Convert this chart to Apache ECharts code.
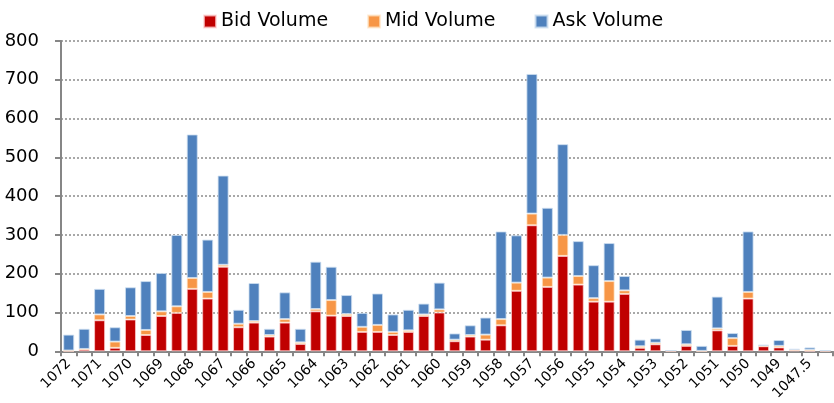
<!DOCTYPE html>
<html lang="en">
<head>
    <meta charset="UTF-8">
    <title>Volume by price</title>
    <script src="https://cdn.jsdelivr.net/npm/echarts@6/dist/echarts.min.js"></script>
    <style>
        body { margin: 0; background: #fff; }
        #main { width: 834px; height: 403px; }
    </style>
</head>
<body>
    <div id="main"></div>
    <script>
        // price levels, high to low
        var prices = ['1072','1071.5','1071','1070.5','1070','1069.5','1069','1068.5','1068','1067.5',
                      '1067','1066.5','1066','1065.5','1065','1064.5','1064','1063.5','1063','1062.5',
                      '1062','1061.5','1061','1060.5','1060','1059.5','1059','1058.5','1058','1057.5',
                      '1057','1056.5','1056','1055.5','1055','1054.5','1054','1053.5','1053','1052.5',
                      '1052','1051.5','1051','1050.5','1050','1049.5','1049','1048.5','1047.5','1047'];

        var bidVolume = [1, 5, 80, 9, 82, 42, 91, 99, 161, 136,
                         218, 62, 74, 38, 74, 19, 103, 92, 91, 50,
                         50, 42, 50, 91, 100, 26, 38, 30, 67, 156,
                         325, 166, 246, 172, 128, 128, 148, 9, 18, 1,
                         14, 1, 54, 14, 136, 13, 10, 3, 1, 1];

        var midVolume = [1, 1, 15, 16, 9, 13, 12, 17, 28, 17,
                         5, 9, 4, 4, 9, 4, 6, 40, 5, 13,
                         18, 8, 4, 4, 8, 4, 4, 13, 16, 21,
                         30, 24, 54, 22, 9, 53, 9, 4, 4, 1,
                         4, 0, 5, 20, 17, 1, 4, 1, 3, 1];

        var askVolume = [41, 52, 66, 37, 74, 126, 99, 184, 370, 135,
                         230, 36, 98, 16, 69, 35, 122, 86, 49, 36,
                         81, 45, 53, 28, 69, 16, 25, 44, 226, 122,
                         360, 180, 234, 90, 85, 98, 37, 17, 11, 0,
                         37, 13, 82, 13, 156, 3, 15, 2, 6, 0];

        var font = 'DejaVu Sans, Verdana, sans-serif';

        function barSeries(name, data, color, border) {
            return {
                name: name,
                type: 'bar',
                stack: 'vol',
                barWidth: 11,
                data: data,
                itemStyle: {
                    color: color,
                    borderColor: border,
                    borderWidth: 1
                }
            };
        }

        var mychart = echarts.init(document.getElementById('main'));
        var option = {
            animation: false,
            textStyle: { fontFamily: font },
            legend: {
                top: 7,
                left: 198,
                icon: 'rect',
                itemWidth: 12,
                itemHeight: 12,
                itemGap: 39,
                textStyle: { fontSize: 19, color: '#000', fontFamily: font },
                data: ['Bid Volume', 'Mid Volume', 'Ask Volume']
            },
            grid: {
                left: 61,
                right: 1,
                top: 41,
                bottom: 50,
                containLabel: false
            },
            xAxis: {
                type: 'category',
                data: prices,
                boundaryGap: true,
                axisLine: { lineStyle: { color: '#868686', width: 2 } },
                axisTick: { show: true, interval: 0, length: 5, lineStyle: { color: '#868686', width: 2 } },
                axisLabel: {
                    interval: 1,
                    rotate: 45,
                    margin: 10,
                    fontSize: 14,
                    color: '#000',
                    fontFamily: font
                }
            },
            yAxis: {
                type: 'value',
                min: 0,
                max: 800,
                interval: 100,
                axisLine: { show: true, lineStyle: { color: '#868686', width: 2 } },
                axisTick: { show: true, length: 6, lineStyle: { color: '#868686', width: 2 } },
                axisLabel: { fontSize: 18, color: '#000', margin: 22, fontFamily: font },
                splitLine: { lineStyle: { color: '#8c8c8c', type: [2, 2], width: 1.5 } }
            },
            series: [
                barSeries('Bid Volume', bidVolume, '#C00000', 'rgba(255,210,210,0.7)'),
                barSeries('Mid Volume', midVolume, '#F79646', 'rgba(255,230,200,0.7)'),
                barSeries('Ask Volume', askVolume, '#4F81BD', 'rgba(205,222,240,0.8)')
            ]
        };
        mychart.setOption(option);
    </script>
</body>
</html>
